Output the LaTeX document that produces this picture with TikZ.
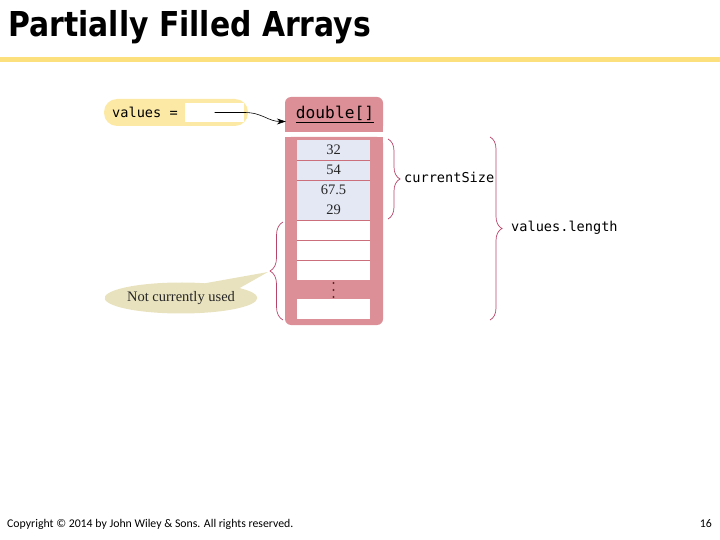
\documentclass[tikz,border=0pt]{standalone}
\usepackage{fontspec}
\setmainfont{Liberation Serif}
\newfontfamily\titlefont{DejaVu Sans}
\newfontfamily\codefont{DejaVu Sans Mono}
\newfontfamily\footfont{Carlito}
\usetikzlibrary{arrows.meta,decorations.pathreplacing,shapes.callouts}
\definecolor{titleline}{HTML}{FDE07E}
\definecolor{pillyellow}{HTML}{FCE9A6}
\definecolor{arrpink}{HTML}{DD8F97}
\definecolor{cellblue}{HTML}{E3E8F4}
\definecolor{seppink}{HTML}{CC6F7C}
\definecolor{bubbletan}{HTML}{E8E2BE}
\definecolor{bracered}{HTML}{B8446A}
\definecolor{dotbrown}{HTML}{5A2A2A}
\begin{document}
\begin{tikzpicture}[x=1pt,y=-1pt,
  code/.style={font=\codefont\fontsize{13.6}{16}\selectfont, inner sep=0pt},
  num/.style={font=\fontsize{14.5}{16}\selectfont, text=black!85},
  cell/.style={minimum width=73pt, minimum height=20pt, inner sep=0pt, fill=#1},
  cell/.default=cellblue,
  sepline/.style={draw=seppink, line width=0.6pt},
  bracestyle/.style={draw=bracered, line width=0.7pt, decorate,
    decoration={brace, amplitude=#1}},
  bracestyle/.default=12pt,
  bubble/.style={ellipse callout, fill=bubbletan, minimum width=140pt,
    minimum height=31pt, inner sep=0pt, callout pointer arc=32,
    font=\fontsize{14.5}{16}\selectfont, text=black!85},
  ptr/.style={-{Stealth[length=9pt,width=6pt]}, line width=0.6pt, black},
  foot/.style={anchor=base, inner sep=0pt, font=\footfont\fontsize{11.8}{13}\selectfont}
]
\useasboundingbox (0,0) rectangle (720,540);

% title
\node[anchor=base west, inner sep=0pt] (title) at (8,37)
  {\scalebox{0.87}[1]{\titlefont\bfseries\fontsize{34.3}{38}\selectfont Partially Filled Arrays}};
\fill[titleline] (0,57) rectangle (720,62);

% values = variable
\node[fill=pillyellow, rounded corners=13pt, minimum width=144pt,
      minimum height=27pt, inner sep=0pt] (pill) at (176,112.5) {};
\node[code, anchor=west] (vlabel) at (112,112) {values =};
\node[fill=white, minimum width=59pt, minimum height=19pt, inner sep=0pt]
  (vbox) at (214.5,112.5) {};

% header of the array
\fill[arrpink, rounded corners=6pt] (285,97) rectangle (383,132);
\fill[arrpink] (285,115) rectangle (383,132);
\node[minimum width=98pt, minimum height=35pt, inner sep=0pt,
      font=\codefont\fontsize{16.2}{18}\selectfont] (hdr) at (335,114.5)
  {\underline{double[]}};

% body of the array
\fill[arrpink, rounded corners=6pt] (285,137) rectangle (383,325);
\fill[arrpink] (285,137) rectangle (383,150);

\node[cell] (c1) at (333.5,150) {};
\node[cell] (c2) at (333.5,170) {};
\node[cell] (c3) at (333.5,190) {};
\node[cell] (c4) at (333.5,210) {};
\node[cell=white] (e1) at (333.5,230) {};
\node[cell=white] (e2) at (333.5,250) {};
\node[cell=white] (e3) at (333.5,270) {};
\node[cell=white] (e4) at (333.5,309) {};

\node[num] (n1) at (c1) {32};
\node[num] (n2) at (c2) {54};
\node[num] (n3) at (c3) {67.5};
\node[num] (n4) at (c4) {29};

\foreach \c in {c1,c2,c4,e1,e2}
  \draw[sepline] (\c.south west) -- (\c.south east);

\foreach \y in {283,290,297}
  \fill[dotbrown] (333.5,\y) circle (1.1pt);

% reference arrow
\draw[ptr] (vbox.center) -- ++(30,0)
  .. controls +(18,0) and +(-18,0) .. ([yshift=-7pt]hdr.west);

% braces
\draw[bracestyle] (388,139) -- (388,219);
\node[code, anchor=west] (cs) at (404,177) {currentSize};
\draw[bracestyle] (490,137) -- (490,320);
\node[code, anchor=west] (vl) at (511,228) {values.length};
\draw[bracestyle=13pt] (283,320) -- (283,222);

% callout
\node[bubble, callout absolute pointer={(268,272)}] (note) at (181,298)
  {Not currently used};

% footer
\node[foot, anchor=base west] (copy) at (7,527)
  {Copyright © 2014 by John Wiley \& Sons.  All rights reserved.};
\node[foot, anchor=base east] (page) at (712,527) {16};
\end{tikzpicture}
\end{document}
